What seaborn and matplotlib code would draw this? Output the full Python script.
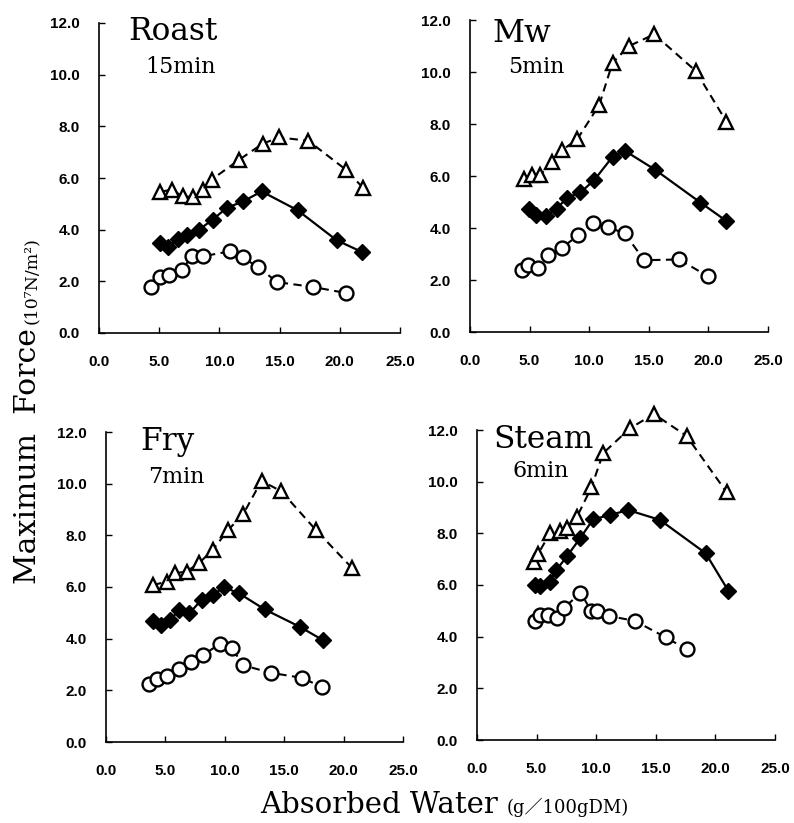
import matplotlib
matplotlib.use('Agg')
import matplotlib.pyplot as plt
import seaborn as sns

# ---- data (x: absorbed water, y: max force) ----
roast_tri_x = [5.07, 6.03, 6.95, 7.78, 8.61, 9.36, 11.66, 13.59, 14.98, 17.39, 20.51, 21.95]
roast_tri_y = [5.46, 5.55, 5.29, 5.26, 5.55, 5.94, 6.71, 7.33, 7.57, 7.44, 6.32, 5.61]
roast_dia_x = [5.07, 5.76, 6.59, 7.34, 8.31, 9.44, 10.60, 11.99, 13.51, 16.50, 19.74, 21.82]
roast_dia_y = [3.48, 3.33, 3.64, 3.81, 4.00, 4.39, 4.84, 5.10, 5.48, 4.75, 3.59, 3.14]
roast_cir_x = [4.32, 5.07, 5.84, 6.87, 7.70, 8.61, 10.88, 11.93, 13.23, 14.81, 17.80, 20.49]
roast_cir_y = [1.78, 2.17, 2.26, 2.43, 2.97, 2.97, 3.16, 2.93, 2.54, 1.97, 1.78, 1.55]

mw_tri_x = [4.53, 5.17, 5.87, 6.84, 7.74, 8.99, 10.84, 11.96, 13.35, 15.45, 18.94, 21.51]
mw_tri_y = [5.90, 6.03, 6.03, 6.52, 7.00, 7.41, 8.73, 10.36, 11.00, 11.45, 10.04, 8.09]
mw_dia_x = [4.97, 5.53, 6.37, 7.26, 8.16, 9.27, 10.42, 11.96, 12.99, 15.50, 19.33, 21.51]
mw_dia_y = [4.75, 4.49, 4.45, 4.75, 5.16, 5.37, 5.84, 6.74, 6.97, 6.25, 4.98, 4.27]
mw_cir_x = [4.39, 4.83, 5.67, 6.56, 7.74, 9.08, 10.34, 11.54, 12.99, 14.61, 17.54, 19.97]
mw_cir_y = [2.37, 2.59, 2.46, 2.95, 3.25, 3.72, 4.20, 4.04, 3.79, 2.76, 2.79, 2.14]

fry_tri_x = [3.98, 5.16, 5.80, 6.78, 7.82, 8.97, 10.29, 11.55, 13.09, 14.77, 17.66, 20.74]
fry_tri_y = [6.08, 6.21, 6.53, 6.60, 6.92, 7.43, 8.21, 8.82, 10.11, 9.70, 8.21, 6.72]
fry_dia_x = [3.92, 4.60, 5.38, 6.17, 7.01, 8.04, 8.97, 9.95, 11.21, 13.37, 16.31, 18.27]
fry_dia_y = [4.69, 4.53, 4.72, 5.11, 4.98, 5.50, 5.69, 5.99, 5.75, 5.13, 4.46, 3.94]
fry_cir_x = [3.62, 4.26, 5.10, 6.17, 7.15, 8.18, 9.59, 10.62, 11.55, 13.85, 16.54, 18.22]
fry_cir_y = [2.26, 2.42, 2.55, 2.84, 3.10, 3.36, 3.81, 3.62, 2.97, 2.68, 2.48, 2.11]

steam_tri_x = [4.76, 5.12, 6.16, 6.94, 7.56, 8.40, 9.60, 10.58, 12.82, 14.84, 17.58, 20.94]
steam_tri_y = [6.90, 7.20, 8.03, 8.09, 8.22, 8.65, 9.78, 11.10, 12.06, 12.62, 11.77, 9.59]
steam_dia_x = [4.84, 5.32, 6.10, 6.66, 7.56, 8.68, 9.74, 11.14, 12.68, 15.34, 19.18, 21.08]
steam_dia_y = [6.00, 5.97, 6.13, 6.58, 7.12, 7.83, 8.54, 8.71, 8.90, 8.52, 7.23, 5.78]
steam_cir_x = [4.90, 5.26, 5.96, 6.72, 7.28, 8.68, 9.60, 10.08, 11.09, 13.24, 15.85, 17.58]
steam_cir_y = [4.61, 4.84, 4.84, 4.71, 5.10, 5.70, 4.99, 4.99, 4.80, 4.61, 3.97, 3.51]

panel_titles = ['Roast', 'Mw', 'Fry', 'Steam']
panel_times = ['15min', '5min', '7min', '6min']
x_ticks = [0, 5, 10, 15, 20, 25]
y_ticks = [0, 2, 4, 6, 8, 10, 12]

panels = [
    (roast_tri_x, roast_tri_y, roast_dia_x, roast_dia_y, roast_cir_x, roast_cir_y),
    (mw_tri_x, mw_tri_y, mw_dia_x, mw_dia_y, mw_cir_x, mw_cir_y),
    (fry_tri_x, fry_tri_y, fry_dia_x, fry_dia_y, fry_cir_x, fry_cir_y),
    (steam_tri_x, steam_tri_y, steam_dia_x, steam_dia_y, steam_cir_x, steam_cir_y),
]

sns.set_style('ticks')
plt.rcParams['font.family'] = ['Liberation Sans', 'DejaVu Sans']
plt.rcParams['text.color'] = 'black'

W, H = 794, 823
fig = plt.figure(figsize=(W / 100, H / 100), dpi=100)

# axes boxes in pixels: left, right, top, bottom
boxes = [(99, 400, 23, 333), (470, 768, 20, 332), (106, 403, 432, 742), (477, 775, 430, 740)]
# title / subtitle anchor points in pixels (left, baseline)
title_pos = [(128, 40), (493, 42), (140, 450), (493, 448)]
time_pos = [(145, 73), (508, 73), (148, 483), (513, 477)]

dash = (0, (4, 2.6))

for i, (tx, ty, dx, dy, cx, cy) in enumerate(panels):
    l, r, t, b = boxes[i]
    ax = fig.add_axes([l / W, 1 - b / H, (r - l) / W, (b - t) / H])
    sns.lineplot(x=tx, y=ty, ax=ax, estimator=None, sort=False, color='black',
                 linestyle=dash, lw=1.5, marker='^', ms=10, mfc='white', mec='black',
                 mew=1.7, clip_on=False)
    sns.lineplot(x=dx, y=dy, ax=ax, estimator=None, sort=False, color='black',
                 linestyle='-', lw=1.6, marker='D', ms=8.5, mfc='black', mec='black',
                 mew=1.0, clip_on=False)
    sns.lineplot(x=cx, y=cy, ax=ax, estimator=None, sort=False, color='black',
                 linestyle=dash, lw=1.5, marker='o', ms=10, mfc='white', mec='black',
                 mew=1.7, clip_on=False)
    ax.set_xlim(0, 25)
    ax.set_ylim(0, 12)
    ax.set_xticks(x_ticks)
    ax.set_yticks(y_ticks)
    ax.set_xticklabels([f'{v:.1f}' for v in x_ticks])
    ax.set_yticklabels([f'{v:.1f}' for v in y_ticks])
    ax.tick_params(axis='x', direction='in', length=4, width=1, pad=16,
                   labelsize=11, color='black', labelcolor='black')
    ax.tick_params(axis='y', direction='in', length=4, width=1, pad=14,
                   labelsize=11, color='black', labelcolor='black')
    for lab in ax.get_xticklabels() + ax.get_yticklabels():
        lab.set_fontweight('bold')
    sns.despine(ax=ax)
    for s in ['left', 'bottom']:
        ax.spines[s].set_linewidth(1.2)
        ax.spines[s].set_color('black')
    ax.set_xlabel('')
    ax.set_ylabel('')
    ax.patch.set_alpha(0)

    x0, y0 = title_pos[i]
    fig.text(x0 / W, 1 - y0 / H, panel_titles[i], family='DejaVu Serif',
             fontsize=22.5, va='baseline', ha='left', color='black')
    x1, y1 = time_pos[i]
    fig.text(x1 / W, 1 - y1 / H, panel_times[i], family='DejaVu Serif',
             fontsize=16, va='baseline', ha='left', color='black')

# shared axis labels
fig.text(28 / W, 1 - 456 / H, 'Maximum  Force', family='DejaVu Serif', fontsize=21.5,
         rotation=90, ha='center', va='center', color='black')
fig.text(31 / W, 1 - 281 / H, '(10⁷N/m²)', family='DejaVu Serif', fontsize=12.5,
         rotation=90, ha='center', va='center', color='black')
fig.text(260 / W, 1 - 813 / H, 'Absorbed Water', family='DejaVu Serif', fontsize=21,
         ha='left', va='baseline', color='black')
fig.text(507 / W, 1 - 813 / H, '(g／100gDM)', family=['DejaVu Serif', 'Noto Sans CJK JP'],
         fontsize=13, ha='left', va='baseline', color='black')

fig.savefig('out.png', dpi=100)
